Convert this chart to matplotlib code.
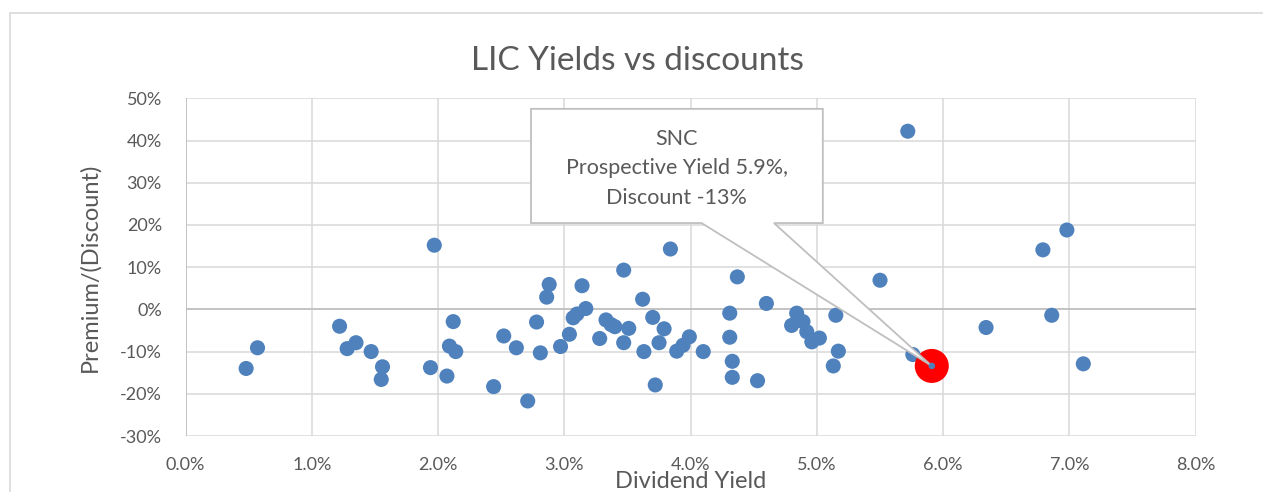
import matplotlib.pyplot as plt
from matplotlib.patches import Polygon, Rectangle
from matplotlib.ticker import PercentFormatter, MultipleLocator

plt.rcParams['font.family'] = ['Lato', 'DejaVu Sans']
plt.rcParams['axes.unicode_minus'] = False

# dividend yield (%) and premium/(discount) (%) for each LIC
yields = [0.48, 0.57, 1.22, 1.28, 1.35, 1.47, 1.56, 1.55, 1.94, 2.07,
          1.97, 2.12, 2.09, 2.14, 2.44, 2.52, 2.62, 2.71, 2.78, 2.81,
          2.88, 2.86, 2.97, 3.04, 3.07, 3.10, 3.17, 3.14, 3.28, 3.33,
          3.37, 3.40, 3.47, 3.51, 3.47, 3.62, 3.70, 3.79, 3.75, 3.63,
          3.72, 3.84, 3.89, 3.94, 3.99, 4.10, 4.37, 4.31, 4.31, 4.33,
          4.33, 4.53, 4.60, 4.84, 4.89, 4.80, 4.92, 4.96, 5.02, 5.15,
          5.17, 5.13, 5.50, 5.72, 5.76, 6.34, 6.79, 6.98, 6.86, 7.11]
premiums = [-14.0, -9.1, -4.0, -9.3, -7.9, -10.0, -13.6, -16.6, -13.8, -15.8,
            15.2, -2.9, -8.7, -10.0, -18.3, -6.3, -9.1, -21.7, -3.0, -10.3,
            5.9, 2.9, -8.8, -5.9, -2.0, -1.1, 0.2, 5.6, -6.9, -2.5,
            -3.6, -4.1, -7.9, -4.5, 9.3, 2.4, -1.9, -4.6, -7.9, -10.0,
            -17.9, 14.3, -9.9, -8.5, -6.5, -10.0, 7.7, -0.9, -6.6, -12.3,
            -16.1, -16.9, 1.4, -0.9, -2.9, -3.8, -5.3, -7.7, -6.8, -1.4,
            -9.9, -13.4, 6.9, 42.2, -10.7, -4.3, 14.1, 18.8, -1.4, -12.9]

snc_yield = 5.91
snc_premium = -13.4
callout_lines = ['SNC', 'Prospective Yield 5.9%,', 'Discount -13%']

text_col = '#595959'
grid_col = '#D9D9D9'
blue = '#4F81BD'

fig = plt.figure(figsize=(12.63, 4.92), dpi=100)
ax = fig.add_axes([0.1469, 0.1138, 0.7998, 0.6864])

# outer chart frame (cropped on right/bottom)
fig.patches.append(Rectangle((10 / 1263, -0.2), 1.2, 0.2 + 1 - 13 / 492,
                             transform=fig.transFigure, fill=False,
                             edgecolor=grid_col, lw=1.2))

ax.scatter(yields, premiums, s=118, color=blue, edgecolors='none', zorder=3)
ax.scatter([snc_yield], [snc_premium], s=600, color='#FF0000',
           edgecolors='none', zorder=4)

ax.set_xlim(0, 8)
ax.set_ylim(-30, 50)
ax.xaxis.set_major_locator(MultipleLocator(1))
ax.yaxis.set_major_locator(MultipleLocator(10))
ax.xaxis.set_major_formatter(PercentFormatter(decimals=1))
ax.yaxis.set_major_formatter(PercentFormatter(decimals=0))
ax.grid(True, color=grid_col, lw=1.1, zorder=0)
ax.set_axisbelow(True)
for sp in ax.spines.values():
    sp.set_visible(False)
ax.axhline(0, color='#BFBFBF', lw=1.2, zorder=1)
ax.axvline(0, color='#BFBFBF', lw=1.2, zorder=1)
ax.tick_params(length=0, labelsize=13, labelcolor=text_col)
ax.tick_params(axis='y', pad=17)
ax.tick_params(axis='x', pad=15)

fig.text(637.7 / 1263, 1 - 61 / 492, 'LIC Yields vs discounts', fontsize=24,
         color=text_col, ha='center', va='center')
ax.set_xlabel('Dividend Yield', fontsize=17, color=text_col)
ax.xaxis.set_label_coords(0.5, -0.104)
ax.set_ylabel('Premium/(Discount)', fontsize=17, color=text_col)
ax.yaxis.set_label_coords(-0.084, 0.5)

# callout box with a wedge tail pointing at SNC
bx0, bx1, by0, by1 = 2.736, 5.047, 20.45, 47.5
tail_l, tail_r = 4.087, 4.66
callout = Polygon([(bx0, by1), (bx1, by1), (bx1, by0), (tail_r, by0),
                   (snc_yield, snc_premium), (tail_l, by0), (bx0, by0)],
                  closed=True, facecolor='white', edgecolor='#BFBFBF',
                  lw=1.3, zorder=5, clip_on=False)
ax.add_patch(callout)
ax.text((bx0 + bx1) / 2, (by0 + by1) / 2 - 0.6, '\n'.join(callout_lines),
        ha='center', va='center', fontsize=15.5, color=text_col,
        linespacing=1.6, zorder=6)
ax.scatter([snc_yield], [snc_premium], s=22, color=blue, edgecolors='none',
           zorder=7)

fig.savefig('out.png', dpi=100)
